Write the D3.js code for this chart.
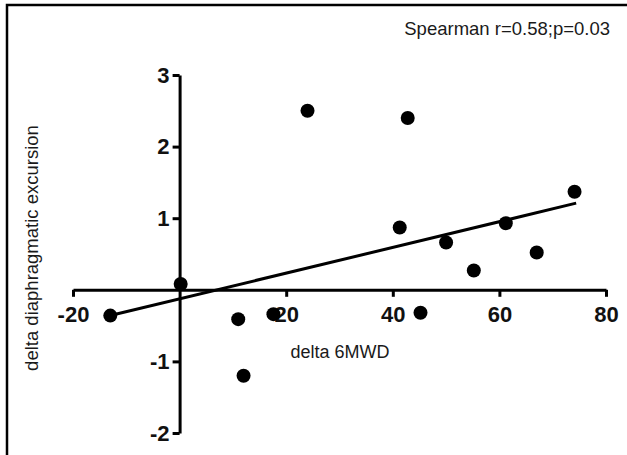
<!DOCTYPE html>
<html>
<head>
<meta charset="utf-8">
<script src="https://cdn.jsdelivr.net/npm/d3@7"></script>
<style>
  html, body { margin: 0; padding: 0; background: #fff; }
  svg { display: block; }
  .tick text { font-family: "Liberation Sans", Arial, sans-serif; font-weight: bold; font-size: 22px; fill: #111; }
  .lbl { font-family: "Liberation Sans", Arial, sans-serif; font-size: 18px; fill: #1a1a1a; }
</style>
</head>
<body>
<div id="chart"></div>
<script>
// delta 6MWD vs delta diaphragmatic excursion
const deltaWalk = [-13, 0.2, 11, 12, 17.6, 24, 41.3, 42.8, 45.2, 50, 55.2, 61.2, 67, 74.1];
const deltaExcursion = [-0.36, 0.08, -0.41, -1.2, -0.34, 2.5, 0.87, 2.4, -0.32, 0.66, 0.27, 0.93, 0.52, 1.37];

// fitted line end points
const fitX = [-13, 74.4];
const fitY = [-0.36, 1.21];

const xTicks = [-20, 20, 40, 60, 80];
const yTicks = [-2, -1, 1, 2, 3];
const xDomain = [-20, 80];
const yDomain = [-2, 3];

const width = 627, height = 455;
const margin = { top: 75, right: 21, bottom: 22, left: 73 };

const svg = d3.select("#chart")
  .append("svg")
  .attr("width", width)
  .attr("height", height);

// frame
svg.append("path")
  .attr("d", `M7,${height} V5 H${width}`)
  .attr("fill", "none")
  .attr("stroke", "#000")
  .attr("stroke-width", 2.5);

const x = d3.scaleLinear().domain(xDomain).range([margin.left, width - margin.right]);
const y = d3.scaleLinear().domain(yDomain).range([height - margin.bottom, margin.top]);

// plain hyphen for negatives, like the original
const fmt = d => String(d);

const xAxis = svg.append("g")
  .attr("transform", `translate(0,${y(0)})`)
  .call(d3.axisBottom(x).tickValues(xTicks).tickSize(7).tickSizeOuter(0).tickPadding(10).tickFormat(fmt));

const yAxis = svg.append("g")
  .attr("transform", `translate(${x(0)},0)`)
  .call(d3.axisLeft(y).tickValues(yTicks).tickSize(7).tickSizeOuter(0).tickPadding(3).tickFormat(fmt));

[xAxis, yAxis].forEach(g => {
  g.select(".domain").attr("stroke", "#000").attr("stroke-width", 3);
  g.selectAll(".tick line").attr("stroke", "#000").attr("stroke-width", 3);
});

// regression line
svg.append("line")
  .attr("x1", x(fitX[0])).attr("y1", y(fitY[0]))
  .attr("x2", x(fitX[1])).attr("y2", y(fitY[1]))
  .attr("stroke", "#000")
  .attr("stroke-width", 3);

// points
svg.append("g")
  .selectAll("circle")
  .data(deltaWalk.map((d, i) => ({ x: d, y: deltaExcursion[i] })))
  .join("circle")
  .attr("cx", d => x(d.x))
  .attr("cy", d => y(d.y))
  .attr("r", 7)
  .attr("fill", "#000");

// labels
svg.append("text")
  .attr("class", "lbl")
  .attr("x", 610)
  .attr("y", 35)
  .attr("text-anchor", "end")
  .style("font-size", "18.5px")
  .text("Spearman r=0.58;p=0.03");

svg.append("text")
  .attr("class", "lbl")
  .attr("x", 340)
  .attr("y", 358)
  .attr("text-anchor", "middle")
  .text("delta 6MWD");

svg.append("text")
  .attr("class", "lbl")
  .attr("transform", "translate(38,248) rotate(-90)")
  .attr("text-anchor", "middle")
  .style("font-size", "18.5px")
  .text("delta diaphragmatic excursion");
</script>
</body>
</html>
